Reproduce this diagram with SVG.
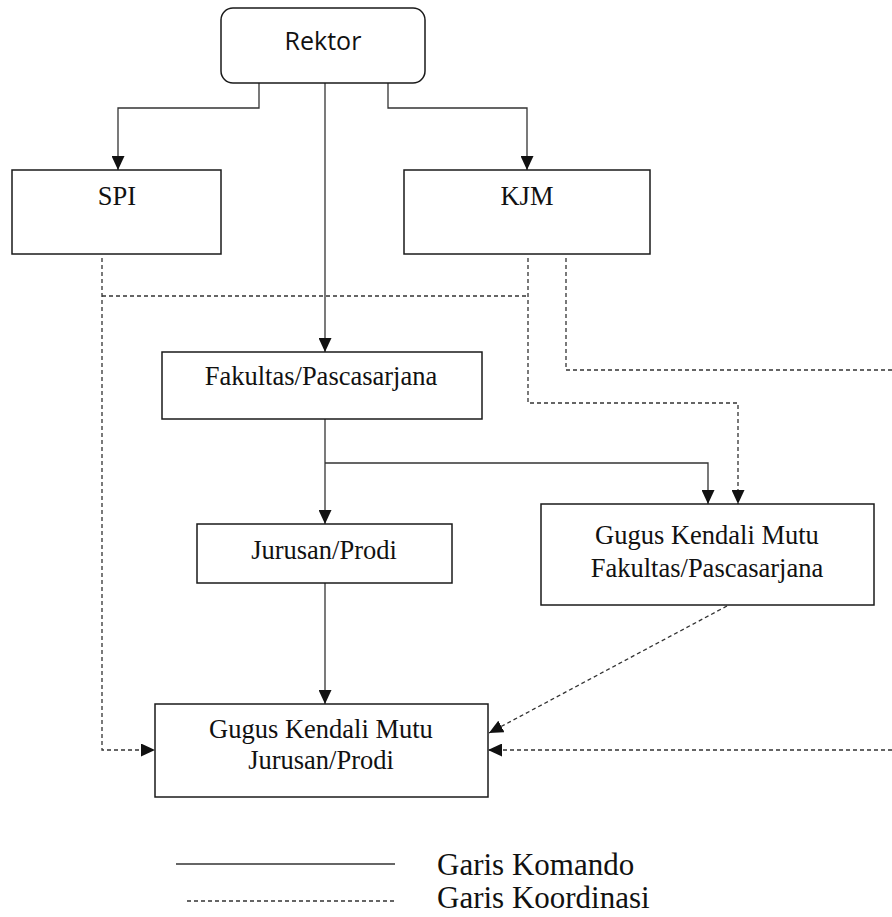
<svg xmlns="http://www.w3.org/2000/svg" width="892" height="917" viewBox="0 0 892 917">
<style>
.box{fill:#fff;stroke:#1a1a1a;stroke-width:1.5}
.t{font-family:"Liberation Serif","Times New Roman",serif;font-size:26.5px;fill:#111;text-anchor:middle}
.sans{font-family:"Open Sans","Liberation Sans",sans-serif;font-size:25px;fill:#111;text-anchor:middle}
.leg{font-family:"Liberation Serif","Times New Roman",serif;font-size:31px;fill:#111}
.solid{fill:none;stroke:#333;stroke-width:1.3}
.dash{fill:none;stroke:#333;stroke-width:1.3;stroke-dasharray:4 3}
</style>
<defs>
<marker id="ah" markerUnits="userSpaceOnUse" markerWidth="15" markerHeight="13" refX="14" refY="6.5" orient="auto">
<path d="M0,0 L14,6.5 L0,13 z" fill="#111"/>
</marker>
</defs>
<g id="connectors">
<path class="solid" d="M259 83 V108 H118 V170" marker-end="url(#ah)"/>
<path class="solid" d="M325 83 V352" marker-end="url(#ah)"/>
<path class="solid" d="M388 83 V108 H527 V170" marker-end="url(#ah)"/>
<path class="solid" d="M325 419 V524" marker-end="url(#ah)"/>
<path class="solid" d="M325 463 H708 V504" marker-end="url(#ah)"/>
<path class="solid" d="M325 583 V704" marker-end="url(#ah)"/>
<path class="dash" d="M102 258 V750 H155" marker-end="url(#ah)"/>
<path class="dash" d="M102 296 H528"/>
<path class="dash" d="M528 258 V403 H738 V504" marker-end="url(#ah)"/>
<path class="dash" d="M566 258 V370 H892"/>
<path class="dash" d="M892 750 H488" marker-end="url(#ah)"/>
<path class="dash" d="M727 606 L489 733" marker-end="url(#ah)"/>
</g>
<g id="rektor">
<rect class="box" x="221" y="8" width="204" height="75" rx="12"/>
<text class="sans" x="323" y="50">Rektor</text>
</g>
<g id="spi">
<rect class="box" x="12" y="170" width="209" height="84"/>
<text class="t" x="117" y="205">SPI</text>
</g>
<g id="kjm">
<rect class="box" x="404" y="170" width="246" height="84"/>
<text class="t" x="527" y="205">KJM</text>
</g>
<g id="fakultas">
<rect class="box" x="162" y="352" width="320" height="67"/>
<text class="t" x="321" y="385">Fakultas/Pascasarjana</text>
</g>
<g id="jurusan">
<rect class="box" x="197" y="524" width="255" height="59"/>
<text class="t" x="324" y="559">Jurusan/Prodi</text>
</g>
<g id="gkm-fakultas">
<rect class="box" x="541" y="504" width="333" height="101"/>
<text class="t" x="707" y="544">Gugus Kendali Mutu</text>
<text class="t" x="707" y="577">Fakultas/Pascasarjana</text>
</g>
<g id="gkm-jurusan">
<rect class="box" x="155" y="704" width="333" height="93"/>
<text class="t" x="321" y="738">Gugus Kendali Mutu</text>
<text class="t" x="321" y="769">Jurusan/Prodi</text>
</g>
<g id="legend">
<line class="solid" x1="176" y1="864" x2="395" y2="864"/>
<line class="dash" x1="187" y1="901" x2="395" y2="901"/>
<text class="leg" x="437" y="875">Garis Komando</text>
<text class="leg" x="437" y="908">Garis Koordinasi</text>
</g>
</svg>
